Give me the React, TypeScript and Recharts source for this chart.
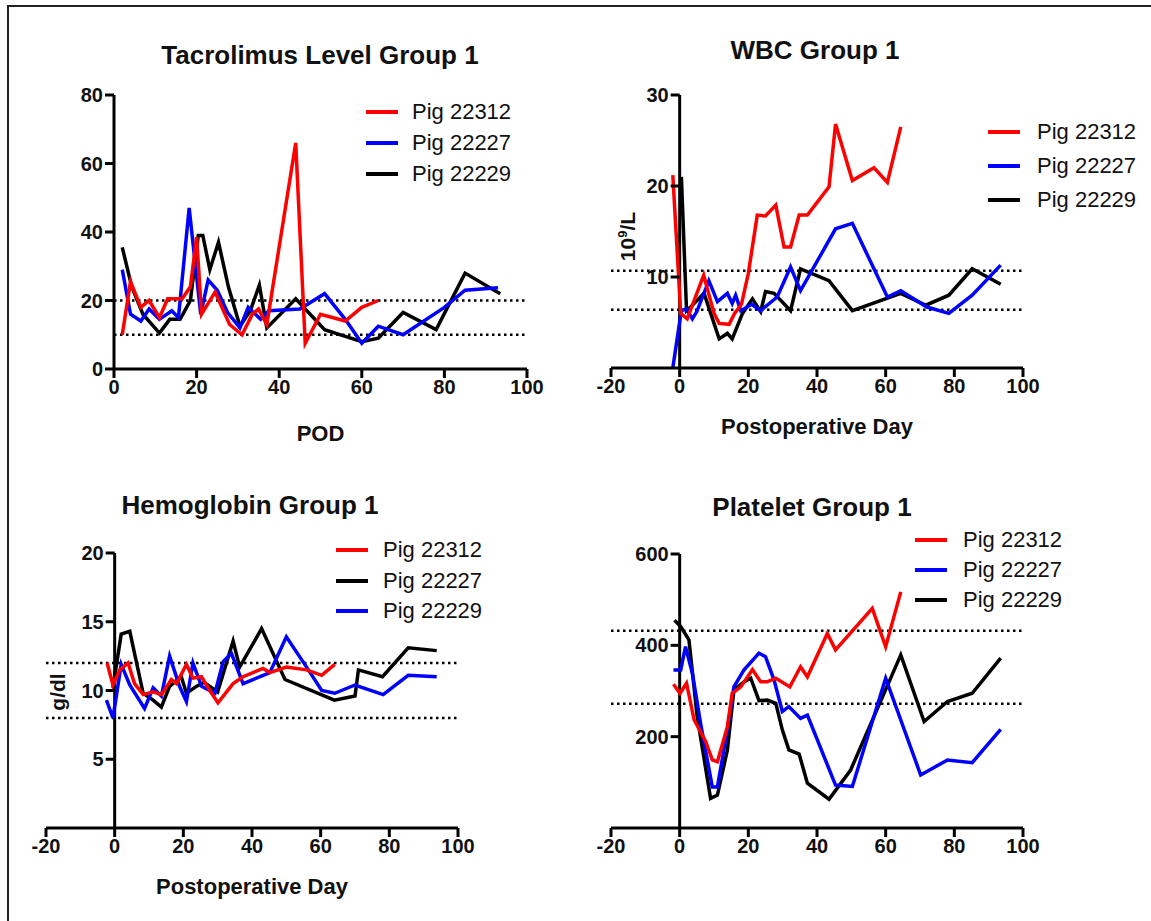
import { LineChart, Line, XAxis, YAxis, ReferenceLine, Legend } from 'recharts';

const RED = '#ff0000';
const BLUE = '#0000ff';
const BLACK = '#000000';
const FONT = '"Liberation Sans", Arial, Helvetica, sans-serif';

// Tacrolimus level (ng/ml) by POD
const tac22312Days = [2, 4, 6.5, 8.5, 11, 13, 16.5, 18.5, 20, 21.2, 24.5, 26.5, 28, 31, 33.5, 35, 37, 44, 46.3, 50, 56, 60, 64];
const tac22312 = [10, 25.5, 18, 20, 15, 20.5, 20.5, 24, 38.5, 16, 22.5, 17, 13, 10, 16, 17.5, 13, 66, 7.5, 16, 14, 18, 20];
const tac22227Days = [2, 4, 6.5, 8.5, 11, 14, 15.6, 18.2, 21, 22.8, 25, 27.5, 30.5, 32.5, 35.5, 37.5, 45, 51, 56, 60, 64, 70, 80, 85, 93];
const tac22227 = [29, 16, 14, 17.5, 14.5, 17, 15, 47, 16, 26, 23, 16.5, 12, 18, 14.5, 17, 17.5, 22, 14.5, 7.5, 12.5, 10, 18, 23, 23.7];
const tac22229Days = [2, 4.3, 7, 11, 13.5, 16, 18.5, 20.4, 21.5, 23.2, 25.3, 27.7, 30.5, 33, 35.2, 37, 44, 51, 56, 60, 64, 70, 78, 85, 93.5];
const tac22229 = [35.5, 24, 16, 10.5, 14.5, 14.5, 20, 39, 39, 29, 37, 24, 12.5, 17, 24.5, 12, 20.5, 11.5, 9.5, 8, 9, 16.5, 11.5, 28, 22];

// WBC (10^9/L)
const wbc22312Days = [-2, 0.3, 2.2, 7, 10, 11.5, 14.4, 16, 18, 20, 22.6, 25, 28, 30.4, 32.3, 34.8, 37.2, 43.5, 45.4, 50.3, 56.6, 60.5, 64.4];
const wbc22312 = [21.2, 6, 5.4, 10.2, 6, 4.9, 4.8, 6, 7, 10.4, 16.8, 16.7, 17.9, 13.3, 13.3, 16.8, 16.8, 19.9, 26.8, 20.6, 22, 20.4, 26.5];
const wbc22227Days = [-2, 0.5, 2, 3.7, 5, 8.5, 11, 13.9, 15.3, 16.3, 17.8, 21, 23.6, 28.4, 32.3, 35.2, 45.4, 50.3, 60.5, 64.4, 72, 78.4, 85.2, 93.5];
const wbc22227 = [0, 6.3, 6.5, 5.4, 6.2, 9.6, 7.3, 8.2, 7.1, 8, 6.3, 7, 6.3, 7.8, 11.1, 8.5, 15.3, 15.9, 7.8, 8.5, 6.7, 6, 8, 11.3];
const wbc22229Days = [0.5, 2, 3.2, 7.1, 11.5, 13.9, 15.3, 18.3, 21.2, 23.6, 25, 27.5, 32.3, 35.2, 43.5, 50.3, 64.4, 71.7, 78.4, 85.2, 93.5];
const wbc22229 = [21, 6.3, 6.7, 8.2, 3.2, 3.8, 3.2, 6, 7.6, 6.2, 8.4, 8.2, 6.3, 10.9, 9.6, 6.3, 8.2, 6.9, 8, 10.9, 9.2];

// Hemoglobin (g/dl)
const hgb22312Days = [-2.2, -0.5, 1.5, 3.9, 5.8, 8.3, 11.2, 13.6, 16.5, 18, 20.9, 22.8, 25.3, 27.7, 30.1, 34.5, 37.4, 43.2, 45.2, 50, 55.9, 60.3, 64.1];
const hgb22312 = [12, 10.4, 11.5, 12, 10.5, 9.7, 9.9, 9.7, 10.8, 10.5, 11.9, 10.9, 11, 10, 9.1, 10.5, 11, 11.6, 11.3, 11.7, 11.5, 11.1, 11.9];
const hgb22227Days = [-0.5, 1.9, 4.4, 8.3, 11.2, 13.6, 16, 19.4, 20.9, 23.8, 26, 30, 34.5, 36.4, 42.8, 49.6, 64, 70, 71, 78, 85.5, 93.8];
const hgb22227 = [10.2, 14.1, 14.3, 9.8, 9.3, 8.8, 10.3, 11, 9.8, 10.3, 10.6, 9.9, 13.6, 11.7, 14.5, 10.8, 9.3, 9.6, 11.5, 11, 13.1, 12.9];
const hgb22229Days = [-2.4, -0.5, 1.9, 4.4, 8.7, 11.2, 13.6, 16, 18.9, 20.9, 22.8, 25.3, 29.2, 31.6, 34, 37.4, 45.2, 50, 55.9, 60.3, 64.1, 70, 78.2, 85.5, 93.8];
const hgb22229 = [9.3, 8, 11.9, 10.4, 8.7, 10.2, 9.6, 12.5, 10.3, 9.2, 12, 10.3, 9.8, 12.1, 12.7, 10.5, 11.3, 13.9, 11.7, 10, 9.8, 10.4, 9.7, 11.1, 11];

// Platelet
const plt22312Days = [-1.8, 0.1, 2, 4.2, 7.6, 9.5, 11, 13.9, 15.3, 17.8, 21.2, 23.6, 25.5, 28, 32.1, 35.2, 37.2, 43, 45.4, 56.1, 60, 64.4];
const plt22312 = [315, 295, 317, 237, 189, 149, 145, 222, 295, 309, 347, 320, 320, 328, 309, 353, 331, 426, 390, 481, 397, 517];
const plt22227Days = [-1.8, 0.3, 1.7, 3.7, 6.1, 9.5, 11, 13.9, 15.8, 18.7, 23.1, 25, 27.5, 29.9, 31.8, 35.2, 37.2, 45.4, 50.3, 60, 70.2, 78, 85.2, 93.5];
const plt22227 = [346, 346, 397, 339, 229, 90, 90, 215, 309, 346, 383, 375, 324, 255, 266, 240, 247, 94, 91, 328, 116, 149, 143, 216];
const plt22229Days = [-1.5, 0.3, 2.7, 5.1, 9, 11, 13.9, 15.8, 18.7, 20.7, 23.1, 25.5, 28, 29.9, 31.8, 34.8, 37.2, 43.5, 49.8, 64.4, 71.2, 78, 85.2, 93.5];
const plt22229 = [455, 441, 412, 244, 65, 72, 171, 302, 320, 328, 279, 280, 273, 215, 171, 162, 98, 63, 127, 379, 233, 277, 295, 372];

const zip = (days: number[], vals: number[]) => days.map((d, i) => ({ day: d, value: vals[i] }));

type Series = { name: string; color: string; days: number[]; values: number[] };
type Panel = {
  title: string;
  titleAt: [number, number];
  xLabel: string;
  xLabelOffset: number;
  yLabel?: React.ReactNode;
  yLabelAt?: [number, number];
  box: { left: number; top: number; width: number; height: number };
  margin: { top: number; right: number; bottom: number; left: number };
  yAxisWidth: number;
  xDomain: [number, number];
  xTicks: number[];
  yDomain: [number, number];
  yTicks: number[];
  refLines: number[];
  series: Series[];
  drawOrder: number[];
  legend: { left: number; top: number; row: number; gap: number };
};

const X_TICKS_0 = [0, 20, 40, 60, 80, 100];
const X_TICKS_NEG = [-20, 0, 20, 40, 60, 80, 100];

const panels: Panel[] = [
  {
    title: 'Tacrolimus Level Group 1',
    titleAt: [320, 55],
    xLabel: 'POD',
    xLabelOffset: 8,
    box: { left: 0, top: 0, width: 560, height: 460 },
    margin: { top: 95, right: 33, bottom: 11, left: 54 },
    yAxisWidth: 60,
    xDomain: [0, 100],
    xTicks: X_TICKS_0,
    yDomain: [0, 80],
    yTicks: [0, 20, 40, 60, 80],
    refLines: [20, 10],
    series: [
      { name: 'Pig 22312', color: RED, days: tac22312Days, values: tac22312 },
      { name: 'Pig 22227', color: BLUE, days: tac22227Days, values: tac22227 },
      { name: 'Pig 22229', color: BLACK, days: tac22229Days, values: tac22229 },
    ],
    drawOrder: [2, 1, 0],
    legend: { left: 366, top: 96, row: 31, gap: 14 },
  },
  {
    title: 'WBC Group 1',
    titleAt: [815, 50],
    xLabel: 'Postoperative Day',
    xLabelOffset: 14,
    yLabel: (
      <span>
        10<sup style={{ fontSize: '0.62em' }}>9</sup>/L
      </span>
    ),
    yLabelAt: [625, 234],
    box: { left: 560, top: 0, width: 591, height: 460 },
    margin: { top: 95, right: 128, bottom: 12, left: 50 },
    yAxisWidth: 1,
    xDomain: [-20, 100],
    xTicks: X_TICKS_NEG,
    yDomain: [0, 30],
    yTicks: [10, 20, 30],
    refLines: [10.7, 6.4],
    series: [
      { name: 'Pig 22312', color: RED, days: wbc22312Days, values: wbc22312 },
      { name: 'Pig 22227', color: BLUE, days: wbc22227Days, values: wbc22227 },
      { name: 'Pig 22229', color: BLACK, days: wbc22229Days, values: wbc22229 },
    ],
    drawOrder: [2, 1, 0],
    legend: { left: 428, top: 115, row: 34, gap: 17 },
  },
  {
    title: 'Hemoglobin Group 1',
    titleAt: [250, 505],
    xLabel: 'Postoperative Day',
    xLabelOffset: 14,
    yLabel: 'g/dl',
    yLabelAt: [58, 692],
    box: { left: 0, top: 460, width: 560, height: 461 },
    margin: { top: 93, right: 102, bottom: 13, left: 45 },
    yAxisWidth: 1,
    xDomain: [-20, 100],
    xTicks: X_TICKS_NEG,
    yDomain: [0, 20],
    yTicks: [5, 10, 15, 20],
    refLines: [12, 8],
    series: [
      { name: 'Pig 22312', color: RED, days: hgb22312Days, values: hgb22312 },
      { name: 'Pig 22227', color: BLACK, days: hgb22227Days, values: hgb22227 },
      { name: 'Pig 22229', color: BLUE, days: hgb22229Days, values: hgb22229 },
    ],
    drawOrder: [1, 2, 0],
    legend: { left: 336, top: 75, row: 30.5, gap: 15 },
  },
  {
    title: 'Platelet Group 1',
    titleAt: [812, 507],
    xLabel: '',
    xLabelOffset: 14,
    box: { left: 560, top: 460, width: 591, height: 461 },
    margin: { top: 94, right: 128, bottom: 13, left: 50 },
    yAxisWidth: 1,
    xDomain: [-20, 100],
    xTicks: X_TICKS_NEG,
    yDomain: [0, 600],
    yTicks: [200, 400, 600],
    refLines: [432, 272],
    series: [
      { name: 'Pig 22312', color: RED, days: plt22312Days, values: plt22312 },
      { name: 'Pig 22227', color: BLUE, days: plt22227Days, values: plt22227 },
      { name: 'Pig 22229', color: BLACK, days: plt22229Days, values: plt22229 },
    ],
    drawOrder: [2, 1, 0],
    legend: { left: 355, top: 65, row: 30, gap: 16 },
  },
];

const tickStyle = { fill: '#111', fontSize: 20, fontWeight: 'bold', fontFamily: FONT };

function LegendBox({ p }: { p: Panel }) {
  return (
    <div style={{ fontFamily: FONT, fontSize: 22, color: '#111' }}>
      {p.series.map((s) => (
        <div key={s.name} style={{ display: 'flex', alignItems: 'center', height: p.legend.row }}>
          <span style={{ display: 'inline-block', width: 32, height: 4, background: s.color, marginRight: p.legend.gap }} />
          <span>{s.name}</span>
        </div>
      ))}
    </div>
  );
}

function ChartPanel({ p }: { p: Panel }) {
  const { box, margin } = p;
  const plotLeft = margin.left + p.yAxisWidth;
  const plotWidth = box.width - margin.left - margin.right - p.yAxisWidth;
  const zeroX = plotLeft + (plotWidth * (0 - p.xDomain[0])) / (p.xDomain[1] - p.xDomain[0]);
  const crossing = p.xDomain[0] < 0;

  // y axis crosses the x axis at day 0
  const zeroTick = (props: any) => {
    const { y, payload } = props;
    return (
      <g>
        <line x1={zeroX - 9} x2={zeroX} y1={y} y2={y} stroke="#000" strokeWidth={3} />
        <text x={zeroX - 11} y={y} textAnchor="end" dominantBaseline="central" {...tickStyle}>
          {payload.value}
        </text>
      </g>
    );
  };

  return (
    <div style={{ position: 'absolute', left: box.left, top: box.top }}>
      <LineChart width={box.width} height={box.height} margin={margin}>
        <XAxis
          dataKey="day"
          type="number"
          domain={p.xDomain}
          ticks={p.xTicks}
          height={80}
          tickSize={9}
          axisLine={{ stroke: '#000', strokeWidth: 3 }}
          tickLine={{ stroke: '#000', strokeWidth: 3 }}
          tick={tickStyle}
          label={
            p.xLabel
              ? {
                  value: p.xLabel,
                  position: 'insideBottom',
                  offset: p.xLabelOffset,
                  fill: '#111',
                  fontSize: 22,
                  fontWeight: 'bold',
                  fontFamily: FONT,
                }
              : undefined
          }
        />
        {crossing ? (
          <YAxis
            type="number"
            domain={p.yDomain}
            ticks={p.yTicks}
            width={p.yAxisWidth}
            axisLine={false}
            tickLine={false}
            tick={zeroTick}
          />
        ) : (
          <YAxis
            type="number"
            domain={p.yDomain}
            ticks={p.yTicks}
            width={p.yAxisWidth}
            tickSize={9}
            axisLine={{ stroke: '#000', strokeWidth: 3 }}
            tickLine={{ stroke: '#000', strokeWidth: 3 }}
            tick={tickStyle}
          />
        )}
        {p.refLines.map((v) => (
          <ReferenceLine key={v} y={v} stroke="#000" strokeWidth={2.5} strokeDasharray="2.5 3.5" />
        ))}
        {crossing && <ReferenceLine x={0} stroke="#000" strokeWidth={3} />}
        {p.drawOrder.map((i) => {
          const s = p.series[i];
          return (
            <Line
              key={s.name}
              data={zip(s.days, s.values)}
              dataKey="value"
              name={s.name}
              stroke={s.color}
              strokeWidth={3.5}
              dot={false}
              type="linear"
              isAnimationActive={false}
            />
          );
        })}
        <Legend
          layout="vertical"
          align="center"
          verticalAlign="middle"
          wrapperStyle={{ left: p.legend.left, top: p.legend.top, width: 'auto' }}
          content={() => <LegendBox p={p} />}
        />
      </LineChart>
    </div>
  );
}

export default function App() {
  return (
    <div
      style={{
        position: 'absolute',
        left: 0,
        top: 0,
        width: 1151,
        height: 921,
        overflow: 'hidden',
        background: '#fff',
        fontFamily: FONT,
      }}
    >
      <div style={{ position: 'absolute', left: 7, top: 5, width: 1170, height: 940, border: '2px solid #222' }} />
      {panels.map((p) => (
        <ChartPanel key={p.title} p={p} />
      ))}
      {panels.map((p) => (
        <div
          key={'t' + p.title}
          style={{
            position: 'absolute',
            left: p.titleAt[0] - 250,
            top: p.titleAt[1] - 15,
            width: 500,
            lineHeight: '30px',
            textAlign: 'center',
            fontSize: 26,
            fontWeight: 'bold',
            color: '#111',
          }}
        >
          {p.title}
        </div>
      ))}
      {panels.map((p) =>
        p.yLabel && p.yLabelAt ? (
          <div
            key={'y' + p.title}
            style={{
              position: 'absolute',
              left: p.yLabelAt[0] - 100,
              top: p.yLabelAt[1] - 15,
              width: 200,
              lineHeight: '30px',
              textAlign: 'center',
              fontSize: 21,
              fontWeight: 'bold',
              color: '#111',
              transform: 'rotate(-90deg)',
            }}
          >
            {p.yLabel}
          </div>
        ) : null
      )}
    </div>
  );
}
